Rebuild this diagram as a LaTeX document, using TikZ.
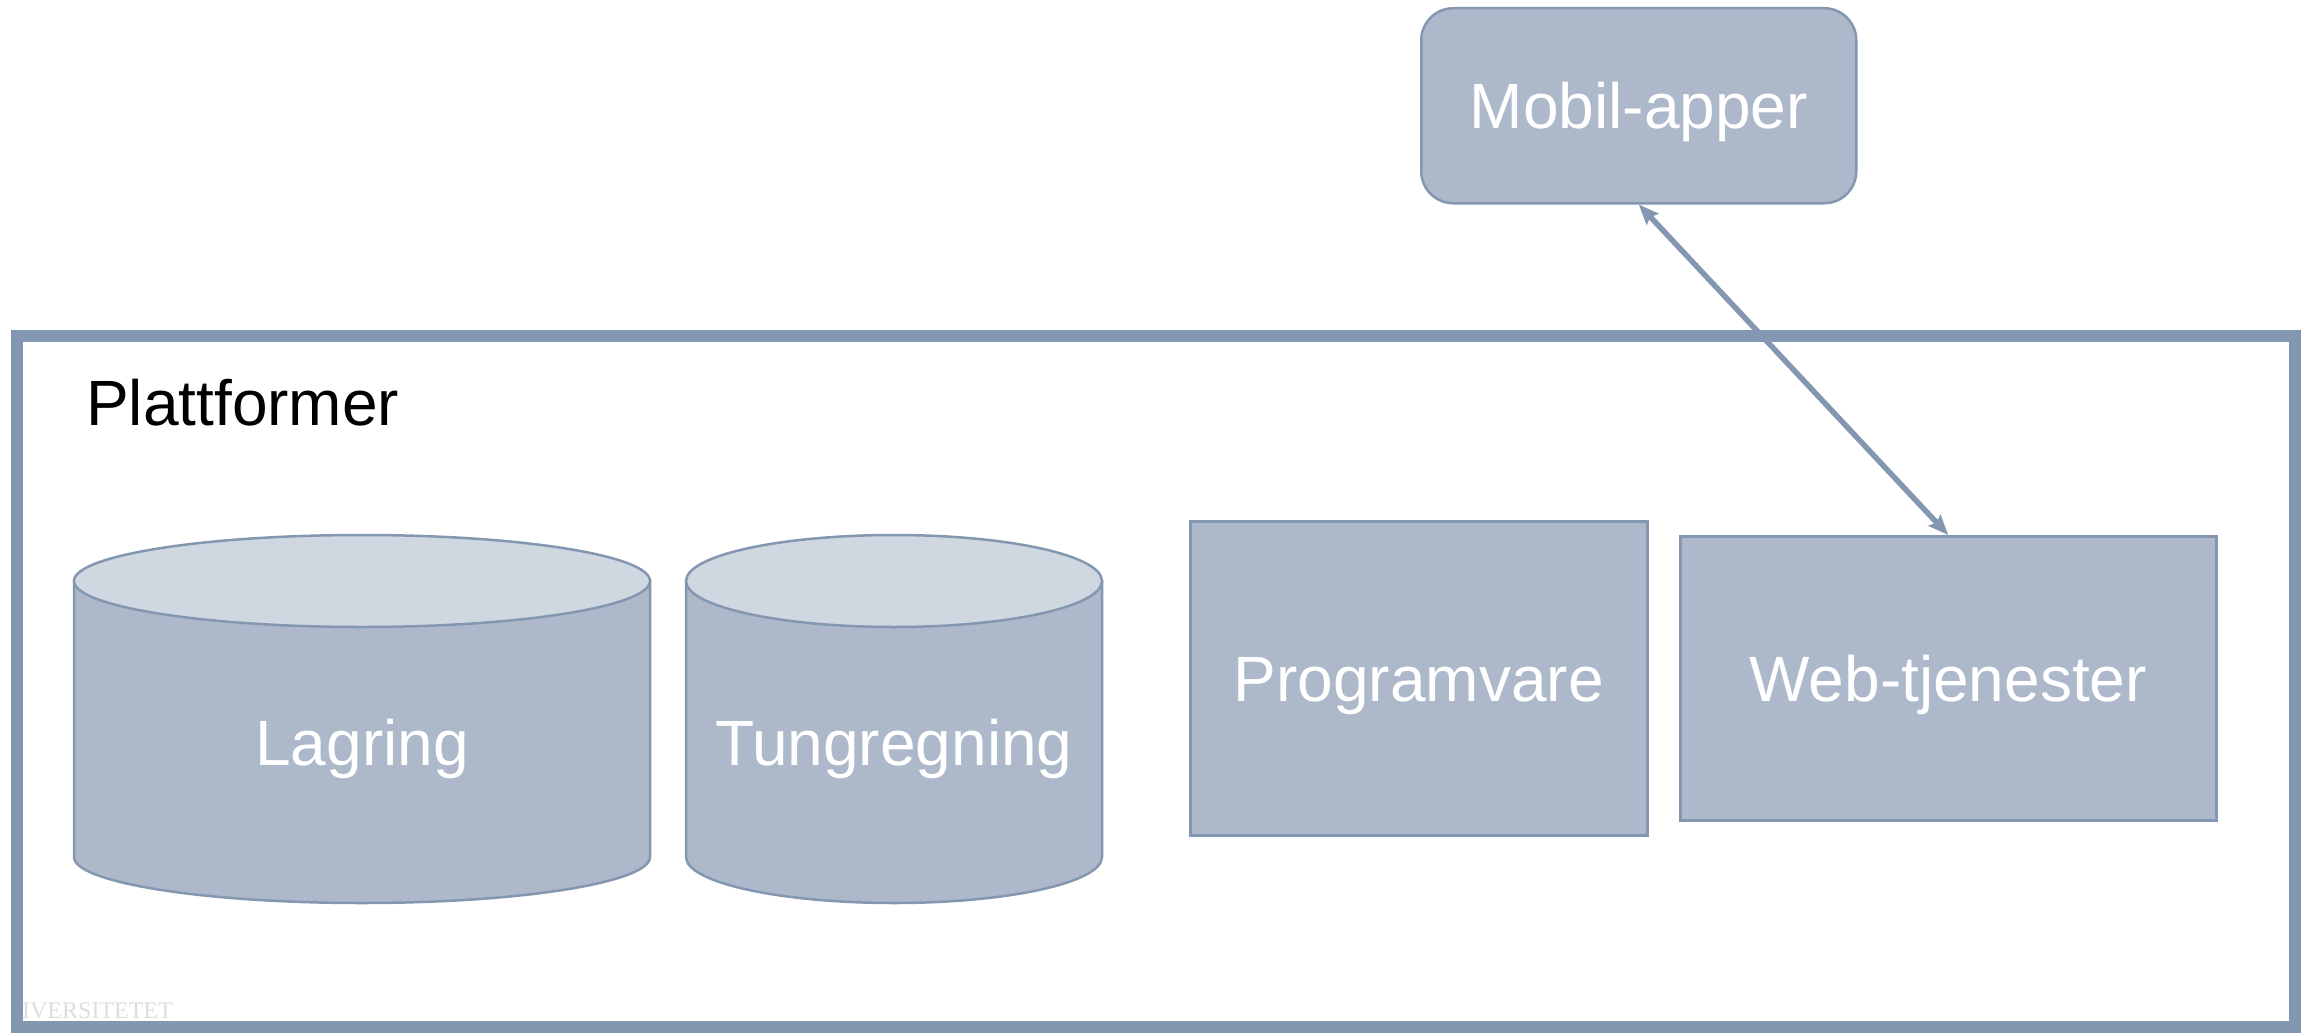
\documentclass[tikz,border=0pt]{standalone}
\usepackage{fontspec}
\setmainfont{Liberation Sans}
\newfontfamily\wmfont{Liberation Serif}
\usetikzlibrary{arrows.meta}
\definecolor{boxfill}{HTML}{ADB9CA}
\definecolor{boxline}{HTML}{8497B0}
\definecolor{topfill}{HTML}{CFD7E1}
\begin{document}
\begin{tikzpicture}[x=1pt,y=-1pt,
  lbl/.style={text=white,font=\fontsize{64}{76}\selectfont,text height=46pt,text depth=0pt,inner sep=0pt},
  boxs/.style={draw=boxline,fill=boxfill,line width=2.5pt,anchor=north west,inner sep=0pt,
    text=white,font=\fontsize{64}{76}\selectfont,text height=46pt,text depth=0pt},
  cylbody/.style={draw=boxline,fill=boxfill,line width=2.5pt},
  cyltop/.style={draw=boxline,fill=topfill,line width=2.5pt},
  framestyle/.style={draw=boxline,line width=12.5pt},
  conn/.style={draw=boxline,line width=5.5pt,{Stealth[length=20pt,width=16pt,inset=3pt]}-{Stealth[length=20pt,width=16pt,inset=3pt]}}
]
\useasboundingbox (0,0) rectangle (2310,1033);
\fill[white] (0,0) rectangle (2310,1033);

% watermark remnant
\node[anchor=base east,inner sep=0pt,text=black!13,font=\wmfont\fontsize{24}{24}\selectfont] (wm) at (173,1018) {IVERSITETET};

% platform frame
\draw[framestyle] (17,336) rectangle (2295,1027);
\node[anchor=base west,inner sep=0pt,font=\fontsize{64}{76}\selectfont] (plat) at (86,425) {Plattformer};

% Lagring cylinder
\path[cylbody] (74,581) -- (74,857) arc[start angle=180,end angle=360,x radius=288pt,y radius=46pt] -- (650,581) -- cycle;
\path[cyltop] (362,581) ellipse [x radius=288pt,y radius=46pt];
\node[lbl] (lag) at (362,742) {Lagring};

% Tungregning cylinder
\path[cylbody] (686,581) -- (686,857) arc[start angle=180,end angle=360,x radius=208pt,y radius=46pt] -- (1102,581) -- cycle;
\path[cyltop] (894,581) ellipse [x radius=208pt,y radius=46pt];
\node[lbl] (tung) at (894,742) {Tungregning};

% boxes
\node[boxs,minimum width=457pt,minimum height=314pt] (prog) at (1189,520) {Programvare};
\node[boxs,minimum width=536pt,minimum height=284pt] (web) at (1679,535) {Web-tjenester};
\node[boxs,rounded corners=32pt,minimum width=435pt,minimum height=195pt] (mob) at (1420,7) {Mobil-apper};

% connector
\draw[conn] (mob.south) -- (web.north);
\end{tikzpicture}
\end{document}
